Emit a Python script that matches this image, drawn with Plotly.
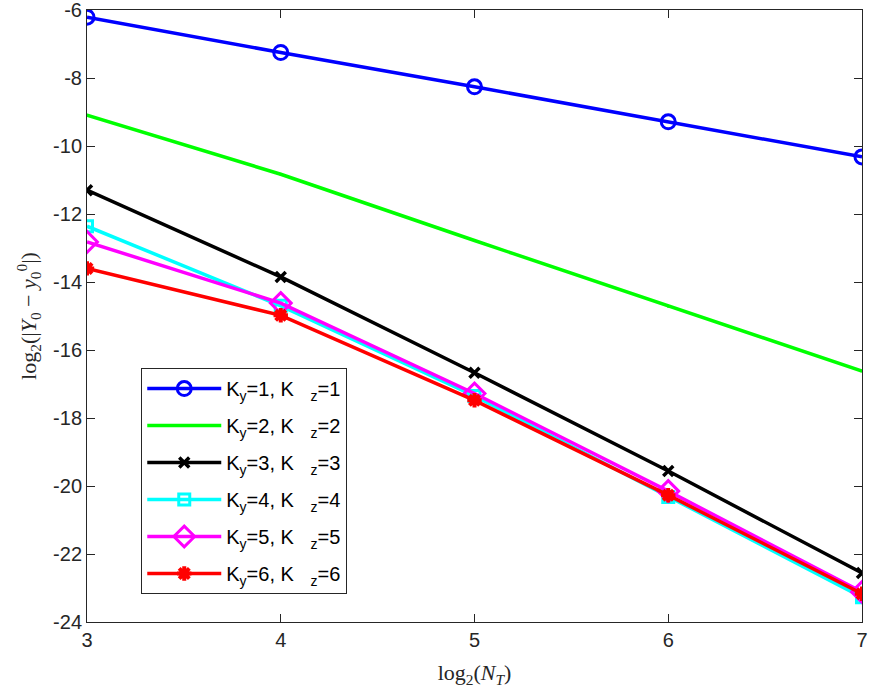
import plotly.graph_objects as go

x_vals = [3, 4, 5, 6, 7]
k1 = [-6.21, -7.25, -8.26, -9.29, -10.32]
k2 = [-9.09, -10.83, -12.78, -14.71, -16.62]
k3 = [-11.30, -13.85, -16.67, -19.56, -22.56]
k4 = [-12.36, -14.70, -17.35, -20.32, -23.27]
k5 = [-12.82, -14.62, -17.28, -20.15, -23.12]
k6 = [-13.60, -14.98, -17.48, -20.27, -23.17]

names = ["K<sub>y</sub>=%d, K\u00a0\u00a0\u00a0<sub>z</sub>=%d" % (i, i) for i in range(1, 7)]
series = [k1, k2, k3, k4, k5, k6]
colors = ["rgb(0,0,255)", "rgb(0,255,0)", "rgb(0,0,0)", "rgb(0,255,255)", "rgb(255,0,255)", "rgb(255,0,0)"]
symbols = ["circle-open", "circle", "x-thin-open", "square-open", "diamond-open", "asterisk-open"]
msizes = [14, 3, 10, 11, 16, 12]
mlw = [3, 0, 3.5, 3, 3, 4]

yticks = [-24, -22, -20, -18, -16, -14, -12, -10, -8, -6]
yticktext = ["-24", "-22", "-20", "-18", "-16", "-14", "-12", "-10", "-8", "-6"]
xticks = [3, 4, 5, 6, 7]

fig = go.Figure()
for i in range(6):
    fig.add_trace(go.Scatter(
        x=x_vals, y=series[i], name=names[i], mode="lines+markers",
        line=dict(color=colors[i], width=3.5),
        marker=dict(symbol=symbols[i], size=msizes[i], color=colors[i],
                    line=dict(color=colors[i], width=mlw[i])),
        legendgroup="g%d" % i,
    ))

axcol = "#262626"
fig.update_layout(
    width=872, height=695,
    margin=dict(l=87, r=10, t=10, b=73),
    paper_bgcolor="white", plot_bgcolor="white",
    font=dict(family="Liberation Sans, Arial, sans-serif", size=20, color=axcol),
    showlegend=True,
    legend=dict(
        x=0.07, y=0.415, xanchor="left", yanchor="top",
        bgcolor="white", bordercolor=axcol, borderwidth=1,
        font=dict(family="Liberation Sans, Arial, sans-serif", size=20, color="black"),
        tracegroupgap=8, itemwidth=74,
    ),
    xaxis=dict(
        range=[3, 7], tickvals=xticks, ticks="inside", ticklen=8, tickcolor=axcol,
        showline=True, linecolor=axcol, linewidth=1, mirror="ticks",
        showgrid=False, zeroline=False, automargin=False, ticklabeloverflow="allow",
        title=dict(text="log<sub>2</sub>(<i>N</i><sub><i>T</i></sub>)",
                   font=dict(family="Liberation Serif, Times New Roman, serif", size=22, color=axcol),
                   standoff=14),
    ),
    yaxis=dict(
        range=[-24, -6], tickvals=yticks, ticktext=yticktext, ticks="inside", ticklen=8,
        tickcolor=axcol,
        showline=True, linecolor=axcol, linewidth=1, mirror="ticks",
        showgrid=False, zeroline=False, automargin=False, ticklabeloverflow="allow",
        title=dict(text="log<sub>2</sub>(|<i>Y</i><sub>0</sub> \u2212 <i>y</i><sub>0</sub><sup>0</sup>|)",
                   font=dict(family="Liberation Serif, Times New Roman, serif", size=22, color=axcol),
                   standoff=10),
    ),
)

fig.write_html("out.html", config={"displayModeBar": False},
               post_script="document.body.style.margin='0';document.body.style.overflow='hidden';")
